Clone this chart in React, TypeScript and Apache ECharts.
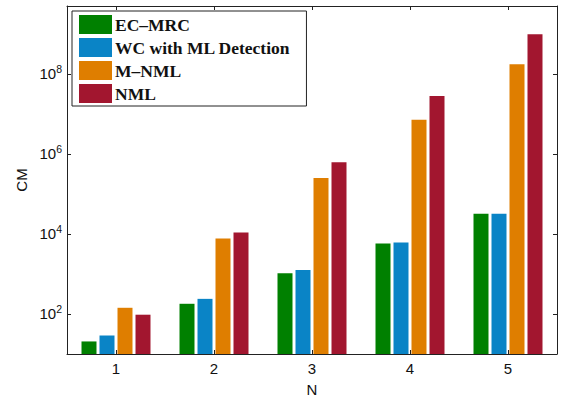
import React, { useEffect, useRef } from "react";
import * as echarts from "echarts";

const categories = ["1", "2", "3", "4", "5"];
const seriesNames = ["EC–MRC", "WC with ML Detection", "M–NML", "NML"];
const ecMrc = [20.6, 180, 1050, 5800, 32000];
const wcMl = [29, 239, 1250, 6170, 32000];
const mNml = [143, 7740, 250000, 7200000, 176000000];
const nml = [96, 10900, 620000, 28000000, 980000000];
const seriesColors = ["#008000", "#0a84c6", "#df7e00", "#a2162f"];
const yMin = 10;
const yMax = 5e9;

export default function App() {
  const ref = useRef<HTMLDivElement>(null);
  useEffect(() => {
    if (!ref.current) return;
    const chart = echarts.init(ref.current, undefined, { renderer: "svg" });
    const values = [ecMrc, wcMl, mNml, nml];
    const axisColor = "#222";
    const labelFont = "Liberation Sans";
    chart.setOption({
      animation: false,
      backgroundColor: "#fff",
      grid: { left: 67, right: 7, top: 6, bottom: 44, containLabel: false },
      legend: {
        orient: "vertical",
        left: 72,
        top: 11,
        itemWidth: 33,
        itemHeight: 19,
        itemGap: 4,
        padding: [4, 16, 3, 7],
        borderColor: axisColor,
        borderWidth: 1,
        borderRadius: 0,
        backgroundColor: "#fff",
        icon: "rect",
        data: seriesNames,
        textStyle: {
          fontFamily: "Liberation Serif",
          fontWeight: "bold",
          fontSize: 17.5,
          color: "#111",
          padding: [0, 0, 0, -2],
        },
      },
      xAxis: [
        {
          type: "category",
          data: categories,
          boundaryGap: true,
          position: "bottom",
          name: "N",
          nameLocation: "middle",
          nameGap: 28,
          nameTextStyle: { fontFamily: labelFont, fontSize: 15, color: "#111" },
          axisLine: { show: true, lineStyle: { color: axisColor, width: 1 } },
          axisTick: { show: true, inside: true, length: 4, alignWithLabel: true, lineStyle: { color: axisColor } },
          axisLabel: { fontFamily: labelFont, fontSize: 15, color: "#111", margin: 7 },
          splitLine: { show: false },
        },
        {
          type: "category",
          data: categories,
          boundaryGap: true,
          position: "top",
          axisLine: { show: true, lineStyle: { color: axisColor, width: 1 } },
          axisTick: { show: true, inside: true, length: 4, alignWithLabel: true, lineStyle: { color: axisColor } },
          axisLabel: { show: false },
          splitLine: { show: false },
        },
      ],
      yAxis: [
        {
          type: "log",
          logBase: 10,
          min: yMin,
          max: yMax,
          position: "left",
          axisLine: { show: true, lineStyle: { color: axisColor, width: 1 } },
          axisTick: { show: false },
          axisLabel: { show: false },
          splitLine: { show: false },
          minorTick: { show: false },
        },
        {
          type: "value",
          min: Math.log10(yMin),
          max: Math.log10(yMax),
          position: "left",
          name: "CM",
          nameLocation: "middle",
          nameGap: 36,
          nameTextStyle: { fontFamily: labelFont, fontSize: 15, color: "#111" },
          axisLine: { show: false },
          axisTick: { show: true, inside: true, length: 4, lineStyle: { color: axisColor } },
          splitLine: { show: false },
          axisLabel: {
            margin: 5,
            formatter: (v: number) =>
              Math.abs(v - Math.round(v)) < 1e-9 && Math.round(v) % 2 === 0 ? `{b|10}{s|${Math.round(v)}}` : "",
            rich: {
              b: { fontFamily: labelFont, fontSize: 15, color: "#111" },
              s: { fontFamily: labelFont, fontSize: 10.5, color: "#111", padding: [0, 0, 9, 0] },
            },
          },
        },
        {
          type: "value",
          min: Math.log10(yMin),
          max: Math.log10(yMax),
          position: "right",
          axisLine: { show: true, lineStyle: { color: axisColor, width: 1 } },
          axisTick: { show: true, inside: true, length: 4, lineStyle: { color: axisColor } },
          axisLabel: { show: false },
          splitLine: { show: false },
        },
      ],
      series: seriesNames.map((name, i) => ({
        name,
        type: "bar",
        xAxisIndex: 0,
        yAxisIndex: 0,
        data: values[i],
        barWidth: 15,
        barGap: "20%",
        itemStyle: { color: seriesColors[i] },
        emphasis: { disabled: true },
      })),
    });
    return () => chart.dispose();
  }, []);
  return (
    <div
      ref={ref}
      style={{ position: "fixed", left: 0, top: 0, width: 564, height: 402, background: "#fff" }}
    />
  );
}
